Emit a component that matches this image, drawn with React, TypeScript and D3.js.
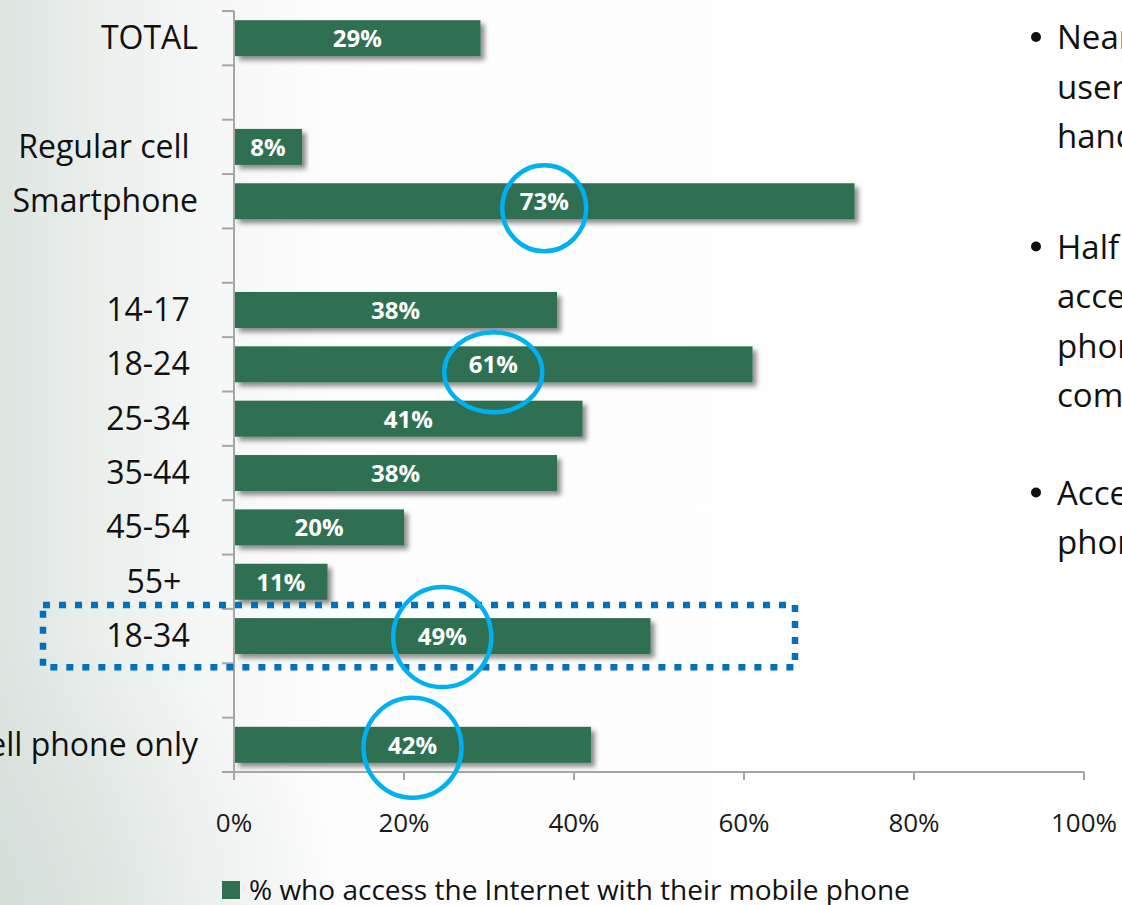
import React from "react";
import * as d3 from "d3";

const CATEGORIES = [
  "TOTAL",
  "",
  "Regular cell\u00a0",
  "Smartphone",
  "",
  "14-17\u00a0",
  "18-24\u00a0",
  "25-34\u00a0",
  "35-44\u00a0",
  "45-54\u00a0",
  "55+\u00a0\u00a0",
  "18-34\u00a0",
  "",
  "Cell phone only",
];
const VALUES: (number | null)[] = [29, null, 8, 73, null, 38, 61, 41, 38, 20, 11, 49, null, 42];
const X_TICKS = [0, 20, 40, 60, 80, 100];
const LEGEND_LABEL = "% who access the Internet with their mobile phone";

// highlighted rows (index into CATEGORIES), ellipse radii and vertical nudge
const CIRCLED = [
  { idx: 3, rx: 42, ry: 43, dy: 7 },
  { idx: 6, rx: 49, ry: 40, dy: 8 },
  { idx: 11, rx: 49, ry: 50, dy: 1 },
  { idx: 13, rx: 49, ry: 50, dy: 3 },
];
const BOXED_IDX = 11;
const BOX_RIGHT_VALUE = 66;

const SIDE_TEXT = [
  { bullet: true, text: "Nearly" },
  { bullet: false, text: "users" },
  { bullet: false, text: "handset" },
  { gap: 61 },
  { bullet: true, text: "Half of" },
  { bullet: false, text: "access" },
  { bullet: false, text: "phone" },
  { bullet: false, text: "compared" },
  { gap: 48 },
  { bullet: true, text: "Access" },
  { bullet: false, text: "phone" },
];

const W = 1122;
const H = 905;
const FONT = "'Open Sans', 'DejaVu Sans', sans-serif";
const BAR = "#2f7051";
const AXIS = "#a6a6a6";

export default function App() {
  const x = d3.scaleLinear().domain([0, 100]).range([234, 1084]);
  const y = d3
    .scaleBand<number>()
    .domain(CATEGORIES.map((_, i) => i))
    .range([11, 772])
    .paddingInner(0.338)
    .paddingOuter(0.169);
  const step = y.step();

  // side text line positions
  let cy = 49;
  const sideLines: { bullet: boolean; text: string; y: number }[] = [];
  SIDE_TEXT.forEach((l: any) => {
    if (l.gap) {
      cy += l.gap;
      return;
    }
    sideLines.push({ bullet: l.bullet, text: l.text, y: cy });
    cy += 49.5;
  });

  const boxY0 = (y(BOXED_IDX) as number) - y.step() * (0.338 / 2) - 4;
  const boxY1 = boxY0 + step + 8;

  return (
    <svg
      width={W}
      height={H}
      style={{ position: "absolute", left: 0, top: 0, display: "block" }}
      fontFamily={FONT}
    >
      <defs>
        <linearGradient id="bg" x1="0" y1="0" x2="1" y2="0">
          <stop offset="0" stopColor="#dde5e1" />
          <stop offset="0.08" stopColor="#e9eeeb" />
          <stop offset="0.18" stopColor="#f5f7f6" />
          <stop offset="0.3" stopColor="#fcfdfc" />
          <stop offset="1" stopColor="#ffffff" />
        </linearGradient>
        <radialGradient id="corner" cx="0" cy="1" r="0.3">
          <stop offset="0" stopColor="#cdd9d3" stopOpacity="0.6" />
          <stop offset="1" stopColor="#cdd9d3" stopOpacity="0" />
        </radialGradient>
        <filter id="shadow" x="-5%" y="-30%" width="115%" height="180%">
          <feDropShadow dx="4" dy="4" stdDeviation="2.5" floodColor="#000" floodOpacity="0.45" />
        </filter>
      </defs>
      <rect width={W} height={H} fill="url(#bg)" />
      <rect width={W} height={H} fill="url(#corner)" />

      {/* bars */}
      {VALUES.map((v, i) =>
        v == null ? null : (
          <rect
            key={"b" + i}
            x={x(0) + 1}
            y={y(i)}
            width={x(v) - x(0) - 1}
            height={y.bandwidth()}
            fill={BAR}
            filter="url(#shadow)"
          />
        )
      )}

      {/* axes */}
      <line x1={x(0)} x2={x(0)} y1={11} y2={772} stroke={AXIS} strokeWidth={2} />
      {d3.range(CATEGORIES.length + 1).map((k) => (
        <line
          key={"yt" + k}
          x1={x(0) - 12}
          x2={x(0)}
          y1={11 + k * step}
          y2={11 + k * step}
          stroke={AXIS}
          strokeWidth={2}
        />
      ))}
      <line x1={x(0)} x2={x(100)} y1={772} y2={772} stroke={AXIS} strokeWidth={2} />
      {X_TICKS.map((t) => (
        <g key={"xt" + t}>
          <line x1={x(t)} x2={x(t)} y1={772} y2={780} stroke={AXIS} strokeWidth={2} />
          <text x={x(t)} y={832} textAnchor="middle" fontSize={26} fill="#1a1a1a">
            {t + "%"}
          </text>
        </g>
      ))}

      {/* category labels */}
      {CATEGORIES.map((c, i) =>
        c === "" ? null : (
          <text
            key={"c" + i}
            x={198}
            y={(y(i) as number) + y.bandwidth() / 2 + 11}
            textAnchor="end"
            fontSize={32}
            fill="#111"
            style={{ whiteSpace: "pre" }}
          >
            {c}
          </text>
        )
      )}

      {/* value labels */}
      {VALUES.map((v, i) =>
        v == null ? null : (
          <text
            key={"v" + i}
            x={(x(0) + x(v)) / 2}
            y={(y(i) as number) + y.bandwidth() / 2 + 9}
            textAnchor="middle"
            fontSize={24}
            fontWeight={700}
            fill="#ffffff"
          >
            {v + "%"}
          </text>
        )
      )}

      {/* dotted box */}
      <rect
        x={43}
        y={boxY0}
        width={x(BOX_RIGHT_VALUE) - 43}
        height={boxY1 - boxY0}
        fill="none"
        stroke="#0070c0"
        strokeWidth={6.5}
        strokeDasharray="7 9"
      />

      {/* circles */}
      {CIRCLED.map((c) => {
        const v = VALUES[c.idx] as number;
        return (
          <ellipse
            key={"e" + c.idx}
            cx={(x(0) + x(v)) / 2}
            cy={(y(c.idx) as number) + y.bandwidth() / 2 + c.dy}
            rx={c.rx}
            ry={c.ry}
            fill="none"
            stroke="#00b0f0"
            strokeWidth={4.5}
          />
        );
      })}

      {/* legend */}
      <rect x={222} y={881} width={18} height={18} fill={BAR} />
      <text x={249} y={900} fontSize={28} fill="#111">
        {LEGEND_LABEL}
      </text>

      {/* side text */}
      {sideLines.map((l, i) => (
        <g key={"s" + i}>
          {l.bullet && <circle cx={1036} cy={l.y - 12} r={5} fill="#111" />}
          <text x={1057} y={l.y} fontSize={33} fill="#111">
            {l.text}
          </text>
        </g>
      ))}
    </svg>
  );
}
